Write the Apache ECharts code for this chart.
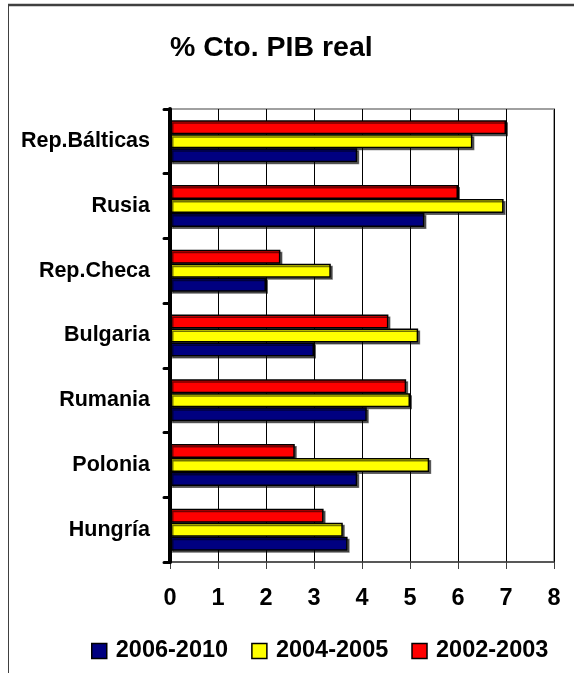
<!DOCTYPE html>
<html><head><meta charset="utf-8">
<script src="https://cdn.jsdelivr.net/npm/echarts@6/dist/echarts.min.js"></script>
<style>html,body{margin:0;padding:0;background:#fff}#c{width:574px;height:673px}</style>
</head><body><div id="c"></div>
<script>
const categories = ['Hungría','Polonia','Rumania','Bulgaria','Rep.Checa','Rusia','Rep.Bálticas'];
const s2006_2010 = [3.7, 3.9, 4.1, 3.0, 2.0, 5.3, 3.9];
const s2004_2005 = [3.6, 5.4, 5.0, 5.17, 3.35, 6.95, 6.3];
const s2002_2003 = [3.2, 2.6, 4.92, 4.55, 2.3, 6.0, 7.0];
const xTicks = [0,1,2,3,4,5,6,7,8];

const font = 'Liberation Sans, Arial, sans-serif';
const chart = echarts.init(document.getElementById('c'), null, {renderer:'canvas'});
const barStyle = (color) => ({
  color: color, borderColor: '#000', borderWidth: 1.5,
  shadowColor: 'rgba(0,0,0,0.55)', shadowOffsetX: 2, shadowOffsetY: 2, shadowBlur: 0
});
chart.setOption({
  animation: false,
  title: {
    text: '% Cto. PIB real', left: 165, top: 29,
    textStyle: {fontFamily: font, fontSize: 28.5, fontWeight: 'bold', color: '#000'}
  },
  graphic: [
    {type:'line', shape:{x1:8, y1:5, x2:574, y2:5}, style:{stroke:'#404040', lineWidth:2.5}},
    {type:'line', shape:{x1:8.5, y1:5, x2:8.5, y2:673}, style:{stroke:'#404040', lineWidth:1}}
  ],
  legend: {
    data: ['2006-2010','2004-2005','2002-2003'],
    left: 86, top: 634, itemWidth: 15, itemHeight: 15, itemGap: 23,
    icon: 'rect',
    itemStyle: {borderColor:'#000', borderWidth:1.5},
    textStyle: {fontFamily: font, fontSize: 23.5, fontWeight: 'bold', color: '#000', padding:[0,0,0,4]}
  },
  grid: {left: 170, right: 20, top: 109, bottom: 111, show: true, borderColor: '#a0a0a0', borderWidth: 2, backgroundColor: '#fff'},
  xAxis: {
    type: 'value', min: 0, max: 8, interval: 1,
    axisLine: {show: true, lineStyle: {color: '#404040', width: 1.5}},
    axisTick: {show: true, length: 7, lineStyle: {color: '#404040', width: 1}},
    splitLine: {show: true, lineStyle: {color: '#000', width: 1}},
    axisLabel: {fontFamily: font, fontSize: 23.5, fontWeight: 'bold', color: '#000', margin: 25,
      formatter: (v) => String(xTicks[v] !== undefined ? xTicks[v] : v)}
  },
  yAxis: {
    type: 'category', data: categories,
    axisLine: {show: true, lineStyle: {color: '#000', width: 4}},
    axisTick: {show: true, length: 6, lineStyle: {color: '#000', width: 3, cap: 'round'}},
    axisLabel: {fontFamily: font, fontSize: 21.5, fontWeight: 'bold', color: '#000', margin: 20},
    z: 10
  },
  series: [
    {name: '2002-2003', type: 'bar', data: s2002_2003, barWidth: 14, barGap: '0%', itemStyle: barStyle('#ff0000')},
    {name: '2004-2005', type: 'bar', data: s2004_2005, barWidth: 14, barGap: '0%', itemStyle: barStyle('#ffff00')},
    {name: '2006-2010', type: 'bar', data: s2006_2010, barWidth: 14, barGap: '0%', itemStyle: barStyle('#000080')}
  ]
});
</script></body></html>
